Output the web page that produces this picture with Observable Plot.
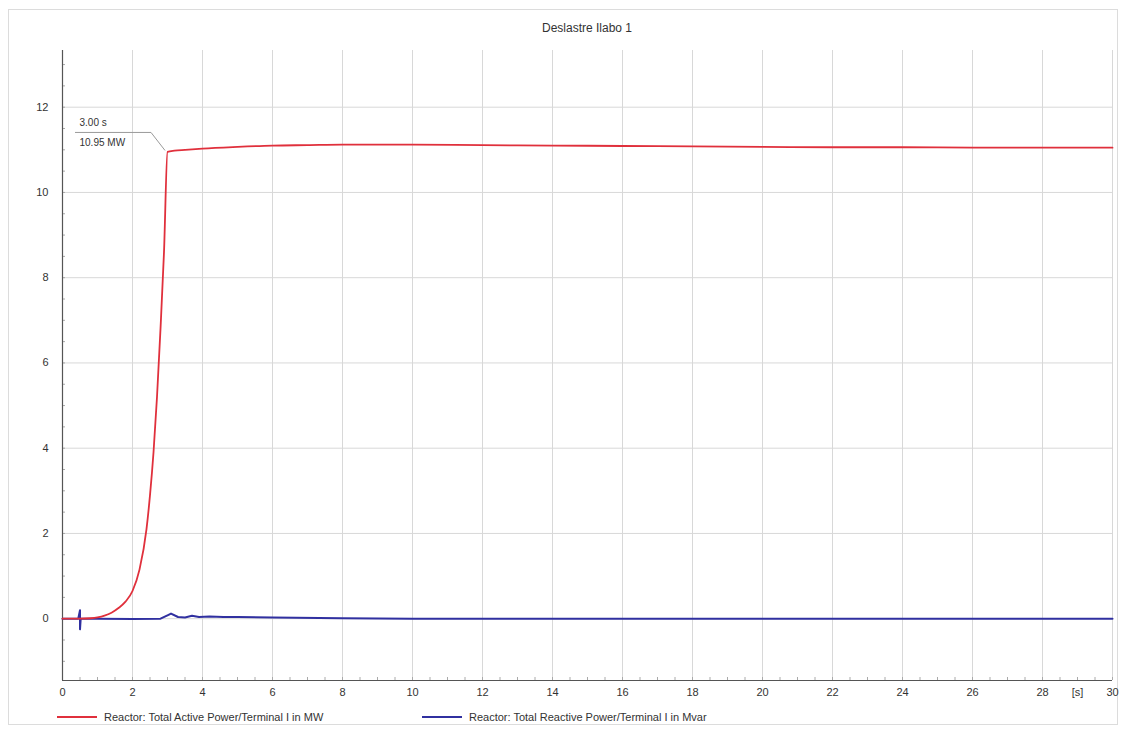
<!DOCTYPE html>
<html><head><meta charset="utf-8">
<script src="https://cdn.jsdelivr.net/npm/d3@7"></script>
<script src="https://cdn.jsdelivr.net/npm/@observablehq/plot@0.6"></script>
<style>
body{margin:0;background:#fff;font-family:"Liberation Sans",Arial,sans-serif;}
#wrap{position:relative;width:1126px;height:730px;}
#frame{position:absolute;left:8px;top:9px;width:1110px;height:716px;border:1px solid #dcdcdc;box-sizing:border-box;}
#title{position:absolute;top:21px;left:487px;width:200px;text-align:center;font-size:12px;color:#333;}
#chart{position:absolute;left:0;top:0;}
.leg{position:absolute;top:711px;font-size:11px;color:#333;display:flex;align-items:center;}
.leg span.sw{display:inline-block;width:40px;height:2px;margin-right:7px;}
</style></head>
<body><div id="wrap"><div id="frame"></div><div id="title">Deslastre Ilabo 1</div><div id="chart"></div>
<div class="leg" style="left:57px"><span class="sw" style="background:#e0303c"></span>Reactor: Total Active Power/Terminal I in MW</div>
<div class="leg" style="left:422px"><span class="sw" style="background:#3030a0"></span>Reactor: Total Reactive Power/Terminal I in Mvar</div>
</div>
<script>
const activeT = [0,0.5,0.8,1.0,1.2,1.4,1.6,1.8,2.0,2.2,2.4,2.5,2.6,2.7,2.8,2.9,3.0,3.2,3.5,4,5,6,7,8,9,10,12,14,16,18,20,22,24,26,28,30];
const activeV = [0,0,0.01,0.03,0.07,0.14,0.25,0.4,0.65,1.15,2.1,2.9,3.9,5.2,6.8,8.6,10.95,10.98,11.0,11.03,11.07,11.1,11.11,11.12,11.12,11.12,11.11,11.1,11.09,11.08,11.07,11.06,11.06,11.05,11.05,11.05];
const reactT = [0,0.45,0.5,0.5,0.52,1,2,2.8,3.0,3.1,3.3,3.5,3.7,3.9,4.2,4.6,5,6,8,10,30];
const reactV = [0,0,0.2,-0.25,0,0,-0.01,0,0.08,0.12,0.04,0.03,0.07,0.04,0.05,0.04,0.04,0.03,0.01,0.0,0.0];
const xTicks = [0,2,4,6,8,10,12,14,16,18,20,22,24,26,28,30];
const xLabelTicks = [0,2,4,6,8,10,12,14,16,18,20,22,24,26,28,29,30];
const yTicks = [0,2,4,6,8,10,12];
const annotation = [{t:3.00, v:10.95, line1:"3.00 s", line2:"10.95 MW"}];

const active = activeT.map((t,i)=>({t, v:activeV[i]}));
const react = reactT.map((t,i)=>({t, v:reactV[i]}));
const xMinor = d3.range(0,30.01,0.5);
const yMinor = d3.range(-1.0,13.3,0.5);

const leader = (index, scales) => {
  const ns="http://www.w3.org/2000/svg";
  const g=document.createElementNS(ns,"g");
  for (const a of annotation){
    const px=scales.x(a.t), py=scales.y(a.v);
    const p=document.createElementNS(ns,"path");
    p.setAttribute("d",`M${px-92},${py-19}H${px-16}L${px-2},${py-1}`);
    p.setAttribute("fill","none");p.setAttribute("stroke","#9a9a9a");p.setAttribute("stroke-width","1");
    g.appendChild(p);
  }
  return g;
};

const chart = Plot.plot({
  width:1126, height:705,
  marginLeft:62, marginRight:14, marginTop:50, marginBottom:25,
  style:{fontFamily:"Liberation Sans, Arial, sans-serif", fontSize:"11px", color:"#333", background:"transparent"},
  x:{domain:[0,30], label:null},
  y:{domain:[-1.45,13.33], label:null},
  marks:[
    Plot.gridX(xTicks,{stroke:"#d8d8d8", strokeOpacity:1}),
    Plot.gridY(yTicks,{stroke:"#d8d8d8", strokeOpacity:1}),
    Plot.axisX({ticks:xMinor, text:null, tickSize:-3, stroke:"#aaa", label:null}),
    Plot.axisY({ticks:yMinor, text:null, tickSize:-3, stroke:"#aaa", label:null}),
    Plot.axisX({ticks:xLabelTicks, tickSize:0, tickPadding:8, label:null, tickFormat:d=> d===29 ? "[s]" : String(d)}),
    Plot.axisY({ticks:yTicks, tickSize:0, tickPadding:14, label:null}),
    Plot.ruleX([0],{stroke:"#555", strokeWidth:1.2}),
    Plot.ruleY([-1.45],{stroke:"#555", strokeWidth:1.2}),
    Plot.line(react,{x:"t", y:"v", stroke:"#3030a0", strokeWidth:2}),
    Plot.line(active,{x:"t", y:"v", stroke:"#e0303c", strokeWidth:1.8, curve:"monotone-x"}),
    leader,
    Plot.text(annotation,{x:"t", y:"v", text:"line1", dx:-88, dy:-29, textAnchor:"start", fill:"#333", fontSize:10}),
    Plot.text(annotation,{x:"t", y:"v", text:"line2", dx:-88, dy:-9, textAnchor:"start", fill:"#333", fontSize:10})
  ]
});
document.getElementById("chart").appendChild(chart);
</script></body></html>
